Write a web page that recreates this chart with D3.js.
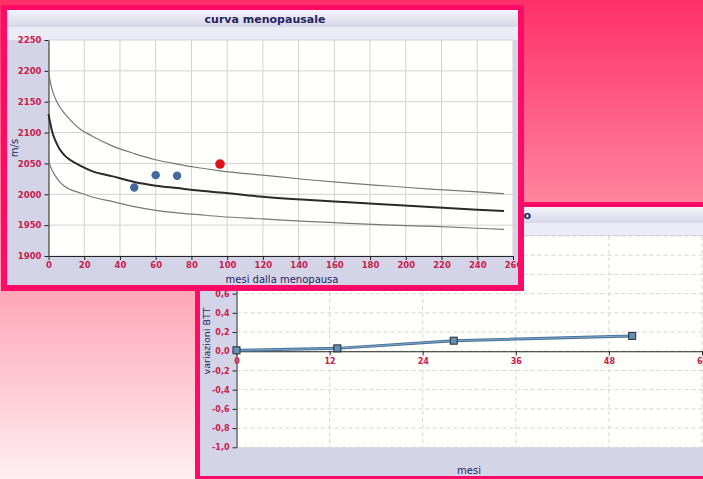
<!DOCTYPE html>
<html>
<head>
<meta charset="utf-8">
<script src="https://cdn.jsdelivr.net/npm/d3@7"></script>
<style>
  body { margin: 0; overflow: hidden; }
  svg text { font-family: "DejaVu Sans", Verdana, sans-serif; }
</style>
</head>
<body>
<svg id="chart" width="703" height="479"></svg>
<script>
// --- curva menopausale: reference curves (m/s) ---
const months = [0, 1, 2, 4, 6, 9, 12, 18, 24, 36, 48, 60, 72, 84, 96, 120, 144, 168, 192, 216, 240, 255];
const upperCurve = [2200, 2182, 2170, 2154, 2143, 2131, 2121, 2105, 2095, 2078, 2066, 2056, 2049, 2043, 2038, 2031, 2024, 2018, 2013, 2008, 2004, 2001];
const midCurve = [2130, 2115, 2102, 2086, 2074, 2063, 2056, 2046, 2038, 2029, 2020, 2014, 2010, 2006, 2003, 1996, 1991, 1987, 1983, 1979, 1975, 1973];
const lowerCurve = [2055, 2046, 2039, 2029, 2021, 2013, 2008, 2002, 1996, 1988, 1980, 1974, 1970, 1967, 1964, 1960, 1956, 1953, 1950, 1948, 1945, 1943];
const patientMonths = [48, 60, 72];
const patientValues = [2011, 2031, 2030];
const lastMonth = [96];
const lastValue = [2049];
const xTicks1 = d3.range(0, 261, 20);
const yTicks1 = d3.range(1900, 2251, 50);

// --- variazioni BTT ---
const btMonths = [0, 13, 28, 51];
const btValues = [0.01, 0.03, 0.11, 0.16];
const xTicks2 = [0, 12, 24, 36, 48, 60];
const yGrid2 = [-1.0, -0.8, -0.6, -0.4, -0.2, 0.0, 0.2, 0.4, 0.6, 0.8, 1.0, 1.2];
const yTicks2 = [-1.0, -0.8, -0.6, -0.4, -0.2, 0.0, 0.2, 0.4, 0.6];   // the rest sit under the front panel

const svg = d3.select("#chart");
const defs = svg.append("defs");

const bg = defs.append("linearGradient").attr("id", "bg").attr("x1", 0).attr("y1", 0).attr("x2", 0).attr("y2", 1);
bg.append("stop").attr("offset", "0%").attr("stop-color", "#ff3068");
bg.append("stop").attr("offset", "45%").attr("stop-color", "#ff8aa0");
bg.append("stop").attr("offset", "100%").attr("stop-color", "#ffeef2");

const tb = defs.append("linearGradient").attr("id", "titlebar").attr("x1", 0).attr("y1", 0).attr("x2", 0).attr("y2", 1);
tb.append("stop").attr("offset", "0%").attr("stop-color", "#f4f4fb");
tb.append("stop").attr("offset", "100%").attr("stop-color", "#d6d6e8");

svg.append("rect").attr("width", 703).attr("height", 479).attr("fill", "url(#bg)");

const tickColor = "#c8204c";
const navy = "#24245e";

function styleAxis(sel, size) {
    sel.selectAll("path, line").attr("stroke", "#222");
    sel.selectAll("text")
        .attr("fill", tickColor)
        .style("font-size", size + "px")
        .style("font-weight", "bold");
}

// ================= chart 2 (behind) =================
const c2 = svg.append("g");
defs.append("clipPath").attr("id", "clip2").append("rect")
    .attr("x", 200).attr("y", 207).attr("width", 503).attr("height", 269);

c2.append("rect").attr("x", 195).attr("y", 202).attr("width", 520).attr("height", 290).attr("fill", "#ff0a66");
const p2 = c2.append("g").attr("clip-path", "url(#clip2)");
p2.append("rect").attr("x", 200).attr("y", 207).attr("width", 510).attr("height", 269).attr("fill", "#d4d4e8");
p2.append("rect").attr("x", 200).attr("y", 207).attr("width", 510).attr("height", 16).attr("fill", "url(#titlebar)");
p2.append("rect").attr("x", 200).attr("y", 223).attr("width", 510).attr("height", 12).attr("fill", "#ececf7");
p2.append("text").attr("x", 531).attr("y", 219).attr("text-anchor", "end")
    .attr("fill", navy).style("font-size", "11px").style("font-weight", "bold")
    .text("variazioni BTT nel tempo");

const x2 = d3.scaleLinear().domain([0, 60]).range([236.5, 702]);
const y2 = d3.scaleLinear().domain([-1, 1.2]).range([447.3, 236]);

p2.append("rect").attr("x", x2(0)).attr("y", y2(1.2)).attr("width", 480).attr("height", y2(-1) - y2(1.2)).attr("fill", "#fffffb");

p2.append("g").selectAll("line").data(yGrid2).join("line")
    .attr("x1", x2(0)).attr("x2", 710).attr("y1", d => y2(d)).attr("y2", d => y2(d))
    .attr("stroke", "#d6d6d6").attr("stroke-dasharray", "4,3");
p2.append("g").selectAll("line").data(xTicks2.filter(d => d > 0)).join("line")
    .attr("x1", d => x2(d)).attr("x2", d => x2(d)).attr("y1", y2(1.2)).attr("y2", y2(-1))
    .attr("stroke", "#d6d6d6").attr("stroke-dasharray", "4,3");

const fmt2 = d => d3.format(".1f")(d).replace(".", ",").replace("−", "-");
const yAx2 = p2.append("g").attr("transform", `translate(${x2(0)},0)`)
    .call(d3.axisLeft(y2).tickValues(yTicks2).tickFormat(fmt2).tickSize(4).tickSizeOuter(0));
styleAxis(yAx2, 8);
const xAx2 = p2.append("g").attr("transform", `translate(0,${y2(0)})`)
    .call(d3.axisBottom(x2).tickValues(xTicks2).tickSize(4).tickSizeOuter(0));
styleAxis(xAx2, 8);
xAx2.select(".domain").attr("stroke-width", 1.2);

p2.append("text").attr("transform", `translate(210,341) rotate(-90)`).attr("text-anchor", "middle")
    .attr("fill", navy).style("font-size", "9.5px").text("variazioni BTT");
p2.append("text").attr("x", 469).attr("y", 474).attr("text-anchor", "middle")
    .attr("fill", navy).style("font-size", "10px").text("mesi");

const line2 = d3.line().x((d, i) => x2(btMonths[i])).y(d => y2(d));
p2.append("path").datum(btValues).attr("d", line2).attr("fill", "none")
    .attr("stroke", "#46719a").attr("stroke-width", 3);
p2.append("path").datum(btValues).attr("d", line2).attr("fill", "none")
    .attr("stroke", "#8fb3d2").attr("stroke-width", 0.8);
p2.append("g").selectAll("rect").data(btValues).join("rect")
    .attr("x", (d, i) => x2(btMonths[i]) - 3.5).attr("y", d => y2(d) - 3.5)
    .attr("width", 7).attr("height", 7)
    .attr("fill", "#6a8db0").attr("stroke", "#1e2c40").attr("stroke-width", 1);

// ================= chart 1 (front) =================
const c1 = svg.append("g");
defs.append("clipPath").attr("id", "clip1").append("rect")
    .attr("x", 7).attr("y", 10).attr("width", 511).attr("height", 275);

c1.append("rect").attr("x", 1).attr("y", 5).attr("width", 523).attr("height", 286).attr("fill", "#ff0a66");
const p1 = c1.append("g").attr("clip-path", "url(#clip1)");
p1.append("rect").attr("x", 7).attr("y", 10).attr("width", 511).attr("height", 275).attr("fill", "#d4d4e8");
p1.append("rect").attr("x", 7).attr("y", 10).attr("width", 511).attr("height", 17).attr("fill", "url(#titlebar)");
p1.append("rect").attr("x", 7).attr("y", 27).attr("width", 511).attr("height", 13).attr("fill", "#ececf7");
p1.append("text").attr("x", 265).attr("y", 23).attr("text-anchor", "middle")
    .attr("fill", navy).style("font-size", "11px").style("font-weight", "bold")
    .text("curva menopausale");

const x1 = d3.scaleLinear().domain([0, 260]).range([48.5, 513]);
const y1 = d3.scaleLinear().domain([1900, 2250]).range([256, 40]);

p1.append("rect").attr("x", x1(0)).attr("y", y1(2250)).attr("width", x1(260) - x1(0)).attr("height", y1(1900) - y1(2250)).attr("fill", "#fffffb");

p1.append("g").selectAll("line").data(yTicks1).join("line")
    .attr("x1", x1(0)).attr("x2", x1(260)).attr("y1", d => y1(d)).attr("y2", d => y1(d))
    .attr("stroke", "#d2d2d2");
p1.append("g").selectAll("line").data(xTicks1).join("line")
    .attr("x1", d => x1(d)).attr("x2", d => x1(d)).attr("y1", y1(2250)).attr("y2", y1(1900))
    .attr("stroke", "#d2d2d2");

const yAx1 = p1.append("g").attr("transform", `translate(${x1(0)},0)`)
    .call(d3.axisLeft(y1).tickValues(yTicks1).tickFormat(d3.format("d")).tickSize(4).tickSizeOuter(0));
styleAxis(yAx1, 8.5);
const xAx1 = p1.append("g").attr("transform", `translate(0,${y1(1900)})`)
    .call(d3.axisBottom(x1).tickValues(xTicks1).tickSize(4).tickPadding(2).tickSizeOuter(0));
styleAxis(xAx1, 8.5);

p1.append("text").attr("transform", `translate(18,148) rotate(-90)`).attr("text-anchor", "middle")
    .attr("fill", navy).style("font-size", "10px").text("m/s");
p1.append("text").attr("x", 282).attr("y", 283).attr("text-anchor", "middle")
    .attr("fill", navy).style("font-size", "10px").text("mesi dalla menopausa");

const curve = vals => d3.line().curve(d3.curveMonotoneX)
    .x((d, i) => x1(months[i])).y(d => y1(d))(vals);
p1.append("path").attr("d", curve(upperCurve)).attr("fill", "none").attr("stroke", "#777").attr("stroke-width", 1.2);
p1.append("path").attr("d", curve(lowerCurve)).attr("fill", "none").attr("stroke", "#777").attr("stroke-width", 1.2);
p1.append("path").attr("d", curve(midCurve)).attr("fill", "none").attr("stroke", "#2a2a2a").attr("stroke-width", 2);

p1.append("g").selectAll("circle").data(patientValues).join("circle")
    .attr("cx", (d, i) => x1(patientMonths[i])).attr("cy", d => y1(d)).attr("r", 4.2)
    .attr("fill", "#44699a");
p1.append("g").selectAll("circle").data(lastValue).join("circle")
    .attr("cx", (d, i) => x1(lastMonth[i])).attr("cy", d => y1(d)).attr("r", 4.8)
    .attr("fill", "#e0101c");
</script>
</body>
</html>
